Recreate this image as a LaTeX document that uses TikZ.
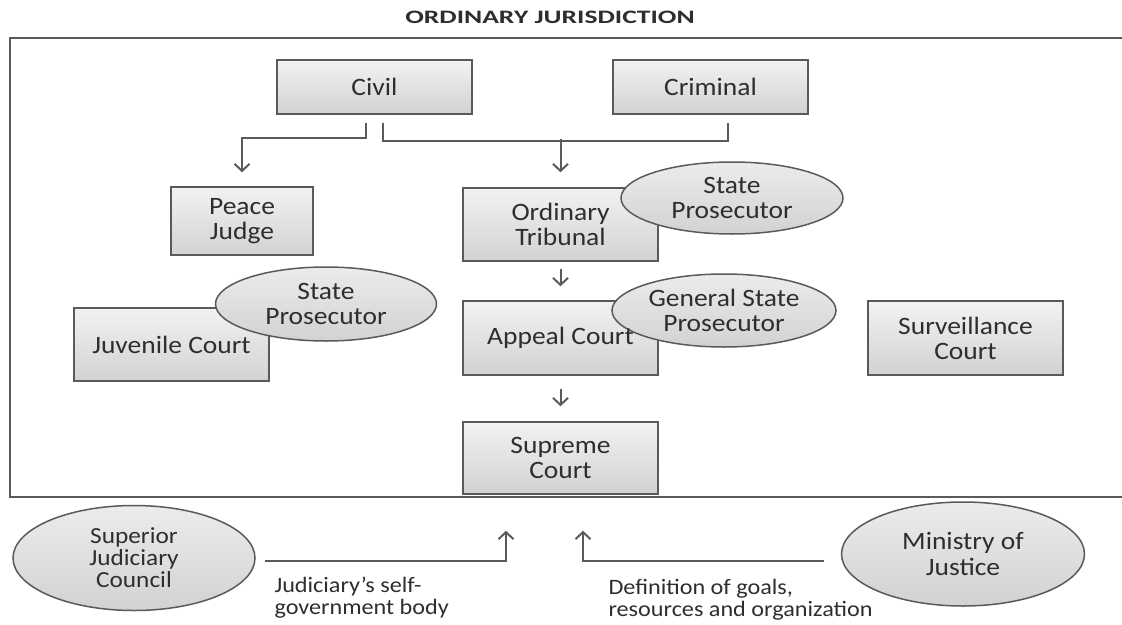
\documentclass[tikz,border=0pt]{standalone}
\usepackage{fontspec}
\setmainfont[FakeStretch=1.1]{Carlito}
\newfontfamily\headfont[FakeStretch=1.45]{Carlito}
\usepackage{tikz}
\usetikzlibrary{arrows.meta,shapes.geometric}
\definecolor{edgegray}{HTML}{5A5A5A}
\definecolor{inkgray}{HTML}{2E2E2E}
\definecolor{lighttop}{HTML}{F2F2F2}
\definecolor{darkbottom}{HTML}{D2D2D2}
\newcommand{\boxsize}{\fontsize{25}{25}\selectfont}
\newcommand{\notesize}{\fontsize{22}{22}\selectfont}
\newcommand{\rimwidth}{1.5pt}
\tikzset{
  court/.style={rectangle, draw=edgegray, line width=\rimwidth, top color=lighttop, bottom color=darkbottom,
    minimum width=195pt, text=inkgray, font=\boxsize, align=center},
  office/.style={ellipse, draw=edgegray, line width=\rimwidth, top color=lighttop!80!darkbottom, bottom color=darkbottom,
    inner sep=0pt, text=inkgray, font=\boxsize, align=center},
  courttext/.style={text=inkgray, font=\boxsize, align=center},
  note/.style={text=inkgray, font=\notesize, align=left, anchor=north west},
  wire/.style={draw=edgegray, line width=2pt},
  flow/.style={wire, -{Straight Barb[length=7pt,width=15pt]}}
}

\begin{document}
\begin{tikzpicture}[x=1pt,y=-1pt]
\useasboundingbox (0,0) rectangle (1122,624);
\node[text=inkgray, font=\headfont\fontsize{19}{22}\selectfont\bfseries] (title) at (550,17) {ORDINARY JURISDICTION};
%frame
\draw[draw=edgegray, line width=2pt] (1122,38) -- (10,38) -- (10,497) -- (1122,497);
%courts
\node[court, minimum height=54pt] (civil) at (374.5,87) {Civil};
\node[court, minimum height=54pt] (criminal) at (710.5,87) {Criminal};
\node[court, minimum width=142pt, minimum height=68pt] (peace) at (242,221) {Peace\\Judge};
\node[court, minimum height=73pt] (ordinary) at (560.5,224.5) {Ordinary\\Tribunal};
\node[court, minimum height=73pt] (juvenile) at (171.5,344.5) {Juvenile Court};
\node[court, minimum height=74pt] (appeal) at (560.5,338) {};
\node[court, minimum height=74pt] (surveillance) at (965.5,338) {Surveillance\\Court};
\node[court, minimum height=72pt] (supreme) at (560.5,458) {Supreme\\Court};
%prosecutors
\node[office, minimum width=222pt, minimum height=72pt] (sp1) at (732,198) {State\\Prosecutor};
\node[office, minimum width=221pt, minimum height=74pt] (sp2) at (326,304) {State\\Prosecutor};
\node[office, minimum width=224pt, minimum height=73pt] (gsp) at (724,310.5) {General State\\Prosecutor};
\node[courttext] (appealtext) at (appeal) {Appeal Court};
%bodies
\node[office, minimum width=242pt, minimum height=105pt, font=\fontsize{23}{22}\selectfont] (sjc) at (134,558) {Superior\\Judiciary\\Council};
\node[office, minimum width=243pt, minimum height=104pt, font=\fontsize{25}{26}\selectfont] (moj) at (963,554) {Ministry of\\Justice};
%connectors
\draw[flow] ([xshift=-8.5pt,yshift=-8pt]civil.south) |- ([yshift=48pt]peace.north) -- ([yshift=14pt]peace.north);
\draw[wire] ([xshift=8.5pt,yshift=-8pt]civil.south) |- ([xshift=17.5pt,yshift=-26pt]criminal.south) -- ([xshift=17.5pt,yshift=-8pt]criminal.south);
\draw[flow] ([yshift=48pt]ordinary.north) -- ([yshift=15pt]ordinary.north);
\draw[flow] ([yshift=-7pt]ordinary.south) -- ([yshift=14pt]appeal.north);
\draw[flow] ([yshift=-13pt]appeal.south) -- ([yshift=15pt]supreme.north);
\draw[flow] ([xshift=9pt,yshift=-3pt]sjc.east) -| ([xshift=-54.5pt,yshift=-36pt]supreme.south);
\draw[flow] ([xshift=-17pt,yshift=-7pt]moj.west) -| ([xshift=22.5pt,yshift=-36pt]supreme.south);
\node[note] (sjcnote) at (271,573) {Judiciary's self-\\government body};
\node[note] (mojnote) at (605,576) {Definition of goals,\\resources and organization};
\end{tikzpicture}
\end{document}
